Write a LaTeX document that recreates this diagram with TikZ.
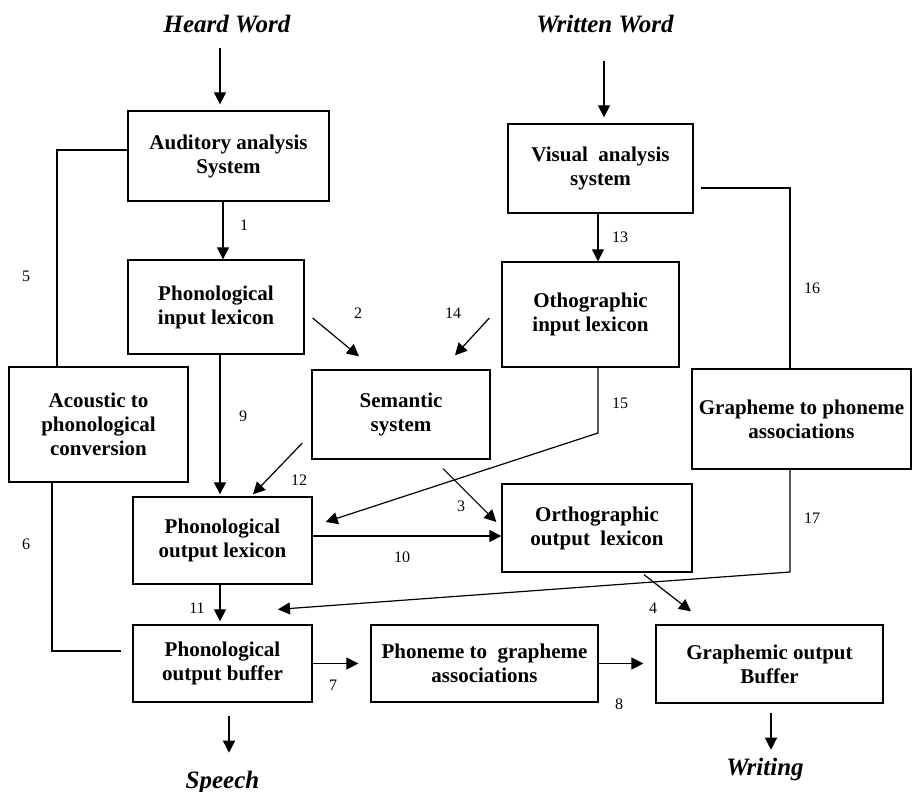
\documentclass[tikz,border=0pt]{standalone}
\usepackage{fontspec}
\setmainfont{Liberation Serif}
\usetikzlibrary{positioning,arrows.meta}

\begin{document}
\begin{tikzpicture}[x=1pt, y=-1pt,
					block/.style={rectangle, draw=black!100, line width=1.3pt, align=center, inner sep=0pt, font=\fontsize{21}{24}\selectfont\bfseries},
					wordtitle/.style={rectangle, font=\fontsize{25}{28}\selectfont\bfseries\itshape},
					numlabel/.style={rectangle, font=\fontsize{16}{18}\selectfont},
					line width=1.2pt, >={Triangle[length=12pt, width=12pt]}
				]
				\useasboundingbox (0,0) rectangle (913,792);
				\node[wordtitle] (heardword) at (227,24) {Heard Word};
				\node[wordtitle] (writtenword) at (605,24) {Written Word};
				\node[block, minimum width=201pt, minimum height=90pt] (auditory) at (228.5,156) {Auditory analysis\\System};
				\node[block, minimum width=176pt, minimum height=94pt] (phoninput) at (216,307) {Phonological\\input lexicon};
				\node[block, minimum width=185pt, minimum height=89pt] (visual) at (600.5,168.5) {Visual~ analysis\\system};
				\node[block, minimum width=177pt, minimum height=105pt] (orthinput) at (590.5,314.5) {Othographic\\input lexicon};
				\node[block, minimum width=179pt, minimum height=115pt] (acoustic) at (98.5,424.5) {Acoustic to\\phonological\\conversion};
				\node[block, minimum width=178pt, minimum height=89pt] (semantic) at (401,414.5) {Semantic\\system};
				\node[block, minimum width=219pt, minimum height=100pt] (graphphon) at (801.5,419) {Grapheme to phoneme\\associations};
				\node[block, minimum width=179pt, minimum height=87pt] (phonoutput) at (222.5,540.5) {Phonological\\output lexicon};
				\node[block, minimum width=190pt, minimum height=88pt] (orthoutput) at (597,528) {Orthographic\\output~ lexicon};
				\node[block, minimum width=179pt, minimum height=77pt] (phonbuffer) at (222.5,663.5) {Phonological\\output buffer};
				\node[block, minimum width=227pt, minimum height=77pt] (phongraph) at (484.5,663.5) {Phoneme to~ grapheme\\associations};
				\node[block, minimum width=227pt, minimum height=78pt] (graphbuffer) at (769.5,664) {Graphemic output\\Buffer};
				\node[wordtitle] (speech) at (222.5,782) {Speech};
				\node[wordtitle] (writing) at (765,769) {Writing};
				% route numbers
				\node[numlabel] (nummone) at (244,225) {1};
				\node[numlabel] (numtwo) at (358,313) {2};
				\node[numlabel] (numthree) at (461,506) {3};
				\node[numlabel] (numfour) at (653,608) {4};
				\node[numlabel] (numfive) at (26,276) {5};
				\node[numlabel] (numsix) at (26,544) {6};
				\node[numlabel] (numseven) at (333,685) {7};
				\node[numlabel] (numeight) at (619,704) {8};
				\node[numlabel] (numnine) at (243,416) {9};
				\node[numlabel] (numten) at (402,557) {10};
				\node[numlabel] (numeleven) at (197,608) {11};
				\node[numlabel] (numtwelve) at (299,480) {12};
				\node[numlabel] (numthirteen) at (620,237) {13};
				\node[numlabel] (numfourteen) at (453,313) {14};
				\node[numlabel] (numfifteen) at (620,403) {15};
				\node[numlabel] (numsixteen) at (812,288) {16};
				\node[numlabel] (numseventeen) at (812,518) {17};
				\coordinate (bendfifteen) at (598,433);
				\coordinate (bendseventeen) at (790,572);
				% plain lines
				\draw ([yshift=6pt]auditory.west) -| ([xshift=-41.5pt]acoustic.north);
				\draw ([xshift=-46.5pt]acoustic.south) |- ([shift={(-11,-12.5)}]phonbuffer.west);
				\draw ([shift={(7,19.5)}]visual.east) -| ([xshift=-11.5pt]graphphon.north);
				\begin{scope}[->]
				\draw[shorten <=11pt, shorten >=6pt] ([xshift=-8.5pt]auditory.north |- heardword.south) -- ([xshift=-8.5pt]auditory.north);
				\draw[shorten <=24pt, shorten >=6pt] ([xshift=3.5pt]visual.north |- writtenword.south) -- ([xshift=3.5pt]visual.north);
				\draw ([xshift=-5.5pt]auditory.south) -- ([xshift=-5.5pt]auditory.south |- phoninput.north);
				\draw ([xshift=-2.5pt]visual.south) -- ([xshift=-2.5pt]visual.south |- orthinput.north);
				\draw[shorten >=2pt] ([xshift=4pt]phoninput.south) -- ([xshift=4pt]phoninput.south |- phonoutput.north);
				\draw[shorten >=3pt] ([xshift=-2.5pt]phonoutput.south) -- ([xshift=-2.5pt]phonoutput.south |- phonbuffer.north);
				\draw ([yshift=4.5pt]phonoutput.east) -- ([yshift=4.5pt]phonoutput.east -| orthoutput.west);
				\draw[shorten >=12pt] (phonbuffer.east) -- (phongraph.west);
				\draw[shorten >=12pt] (phongraph.east) -- (phongraph.east -| graphbuffer.west);
				\draw ([shift={(8,11)}]phoninput.east) -- ([shift={(-42,-13)}]semantic.north);
				\draw ([shift={(-12,3.5)}]orthinput.west) -- ([shift={(54,-14)}]semantic.north);
				\draw ([shift={(-9,28.5)}]semantic.west) -- ([shift={(30.5,-2)}]phonoutput.north);
				\draw ([shift={(42,9)}]semantic.south) -- ([shift={(-5,-6)}]orthoutput.west);
				\draw ([shift={(47,2)}]orthoutput.south) -- ([shift={(-78.5,-13)}]graphbuffer.north);
				\draw (orthinput.south -| bendfifteen) -- (bendfifteen) -- ([shift={(13,-18.5)}]phonoutput.east);
				\draw (graphphon.south -| bendseventeen) -- (bendseventeen) -- ([shift={(55.5,-15)}]phonbuffer.north);
				\draw[shorten <=13pt, shorten >=14pt] ([xshift=6.5pt]phonbuffer.south) -- ([xshift=6.5pt]phonbuffer.south |- speech.north);
				\draw[shorten <=9pt, shorten >=4pt] ([xshift=1.5pt]graphbuffer.south) -- ([xshift=1.5pt]graphbuffer.south |- writing.north);
				\end{scope}
				\end{tikzpicture}
\end{document}
